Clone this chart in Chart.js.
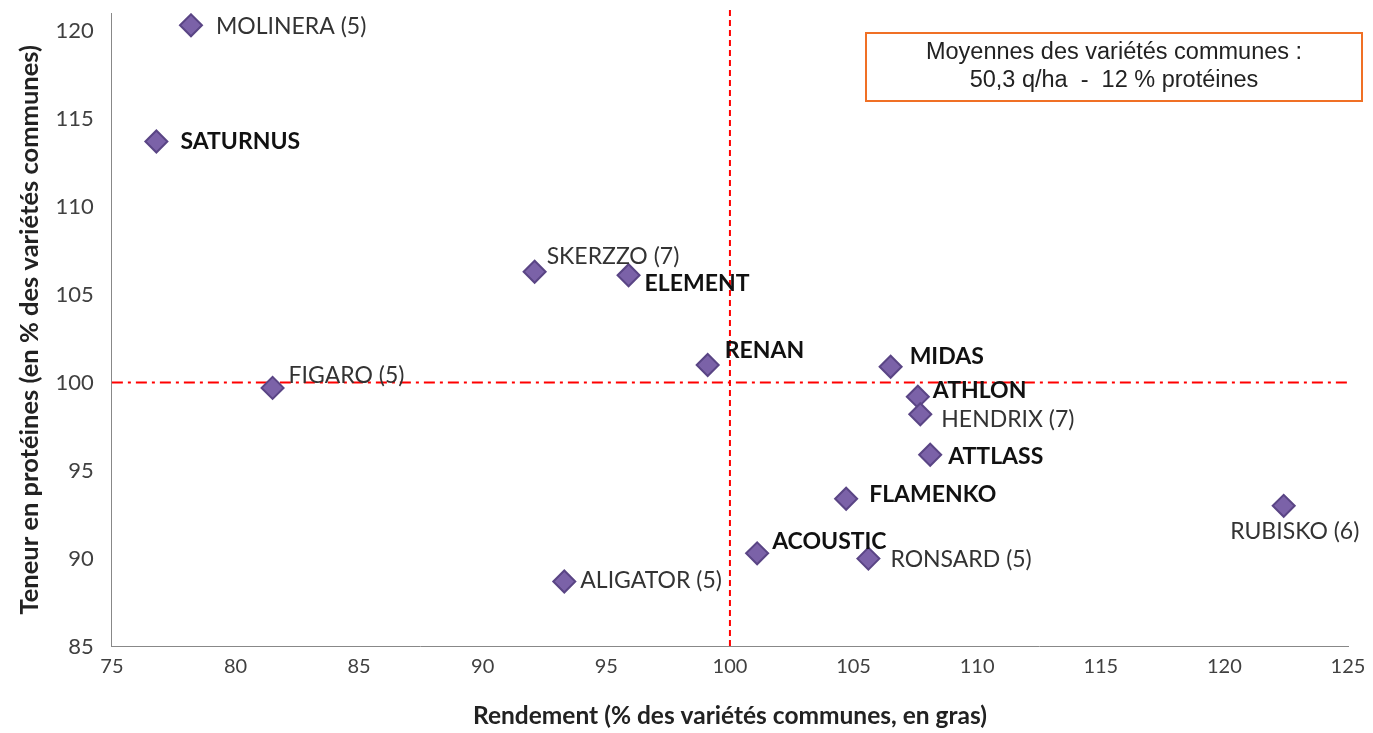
<!DOCTYPE html>
<html>
<head>
<meta charset="utf-8">
<script src="https://cdn.jsdelivr.net/npm/chart.js@4/dist/chart.umd.min.js"></script>
<style>
  body { margin: 0; background: #fff; }
  #wrap { width: 1373px; height: 733px; position: relative; }
</style>
</head>
<body>
<div id="wrap"><canvas id="chart"></canvas></div>
<script>
'use strict';

// varieties (bold = variétés communes)
var names = ['MOLINERA (5)', 'SATURNUS', 'SKERZZO (7)', 'ELEMENT', 'FIGARO (5)', 'RENAN', 'MIDAS',
  'ATHLON', 'HENDRIX (7)', 'ATTLASS', 'FLAMENKO', 'RUBISKO (6)', 'ACOUSTIC', 'RONSARD (5)', 'ALIGATOR (5)'];
var rendement = [78.2, 76.8, 92.1, 95.9, 81.5, 99.1, 106.5, 107.6, 107.7, 108.1, 104.7, 122.4, 101.1, 105.6, 93.3];
var proteines = [120.3, 113.7, 106.3, 106.1, 99.7, 101.0, 100.9, 99.2, 98.2, 95.9, 93.4, 93.0, 90.3, 90.0, 88.7];
var commune = [false, true, false, true, false, true, true, true, false, true, true, false, true, false, false];

var xTicks = [75, 80, 85, 90, 95, 100, 105, 110, 115, 120, 125];
var yTicks = [85, 90, 95, 100, 105, 110, 115, 120];
var refX = 100;
var refY = 100;
var boxLines = ['Moyennes des variétés communes :', '50,3 q/ha  -  12 % protéines'];

// where each label sits next to its point (dx, dy, align)
var labelPlace = {
  'MOLINERA (5)': [25, 1, 'left'],
  'SATURNUS': [24, 0, 'left'],
  'SKERZZO (7)': [12, -15, 'left'],
  'ELEMENT': [16, 8, 'left'],
  'FIGARO (5)': [16, -12, 'left'],
  'RENAN': [17, -14, 'left'],
  'MIDAS': [19, -10, 'left'],
  'ATHLON': [15, -6, 'left'],
  'HENDRIX (7)': [21, 5, 'left'],
  'ATTLASS': [18, 2, 'left'],
  'FLAMENKO': [23, -4, 'left'],
  'RUBISKO (6)': [11, 26, 'center'],
  'ACOUSTIC': [15, -12, 'left'],
  'RONSARD (5)': [22, 1, 'left'],
  'ALIGATOR (5)': [16, -1, 'left']
};

var pts = [];
for (var i = 0; i < names.length; i++) {
  pts.push({x: rendement[i], y: proteines[i]});
}

var FONT = 'Lato, "Open Sans", sans-serif';

// red reference lines + point labels + info box
var extras = {
  id: 'extras',
  beforeDatasetsDraw: function(chart) {
    var ctx = chart.ctx;
    var xs = chart.scales.x, ys = chart.scales.y, a = chart.chartArea;
    ctx.save();
    ctx.strokeStyle = '#ff0000';
    ctx.lineWidth = 2;
    // horizontal dash-dot
    ctx.setLineDash([11, 5, 3, 5]);
    ctx.beginPath();
    ctx.moveTo(a.left, ys.getPixelForValue(refY));
    ctx.lineTo(a.right, ys.getPixelForValue(refY));
    ctx.stroke();
    // vertical dashed
    ctx.setLineDash([6, 4]);
    ctx.beginPath();
    ctx.moveTo(xs.getPixelForValue(refX), a.top - 3);
    ctx.lineTo(xs.getPixelForValue(refX), a.bottom);
    ctx.stroke();
    ctx.restore();
  },
  afterDatasetsDraw: function(chart) {
    var ctx = chart.ctx;
    var xs = chart.scales.x, ys = chart.scales.y, a = chart.chartArea;
    ctx.save();
    ctx.textBaseline = 'middle';
    for (var i = 0; i < names.length; i++) {
      var p = labelPlace[names[i]];
      var px = xs.getPixelForValue(rendement[i]);
      var py = ys.getPixelForValue(proteines[i]);
      ctx.font = (commune[i] ? 'bold ' : '') + '23px ' + FONT;
      ctx.fillStyle = commune[i] ? '#111111' : '#333333';
      ctx.textAlign = p[2];
      ctx.fillText(names[i], px + p[0], py + p[1]);
    }
    // info box
    var bx = a.right - 482, by = a.top + 20, bw = 496, bh = 68;
    ctx.fillStyle = '#ffffff';
    ctx.fillRect(bx, by, bw, bh);
    ctx.strokeStyle = '#f07025';
    ctx.lineWidth = 2;
    ctx.strokeRect(bx, by, bw, bh);
    ctx.fillStyle = '#222222';
    ctx.font = '23.5px "Liberation Sans", Arial, sans-serif';
    ctx.textAlign = 'center';
    ctx.fillText(boxLines[0], bx + bw / 2, by + 20);
    ctx.fillText(boxLines[1], bx + bw / 2, by + 48);
    ctx.restore();
  }
};

new Chart(document.getElementById('chart'), {
  type: 'scatter',
  data: {
    datasets: [{
      data: pts,
      pointStyle: 'rectRot',
      pointRadius: 11,
      pointBackgroundColor: '#7b62a8',
      pointBorderColor: '#5a4585',
      pointBorderWidth: 2
    }]
  },
  options: {
    responsive: true,
    maintainAspectRatio: false,
    animation: false,
    layout: { padding: { top: 13, right: 25, left: 14, bottom: 2 } },
    plugins: { legend: { display: false }, tooltip: { enabled: false } },
    scales: {
      x: {
        type: 'linear',
        min: 75, max: 125,
        afterBuildTicks: function(axis) {
          axis.ticks = xTicks.map(function(v) { return {value: v}; });
        },
        grid: { display: false, drawTicks: true, tickLength: 7, color: '#888888' },
        border: { color: '#888888', width: 1 },
        ticks: { color: '#404040', font: { size: 20, family: FONT }, padding: 1, maxRotation: 0 },
        title: {
          display: true,
          text: 'Rendement (% des variétés communes, en gras)',
          color: '#222222',
          font: { size: 24.5, weight: 'bold', family: FONT },
          padding: { top: 22, bottom: 0 }
        }
      },
      y: {
        type: 'linear',
        min: 85, max: 121,
        afterBuildTicks: function(axis) {
          axis.ticks = yTicks.map(function(v) { return {value: v}; });
        },
        // top tick sits below the axis end, no extra room needed
        afterFit: function(axis) {
          axis.paddingTop = 0;
        },
        grid: { display: false, drawTicks: true, tickLength: 7, color: '#888888' },
        border: { color: '#888888', width: 1 },
        ticks: { color: '#404040', font: { size: 22, family: FONT }, padding: 11 },
        title: {
          display: true,
          text: 'Teneur en protéines (en % des variétés communes)',
          color: '#222222',
          font: { size: 25.5, weight: 'bold', family: FONT },
          padding: { top: 0, bottom: 0 }
        }
      }
    }
  },
  plugins: [extras]
});
</script>
</body>
</html>
